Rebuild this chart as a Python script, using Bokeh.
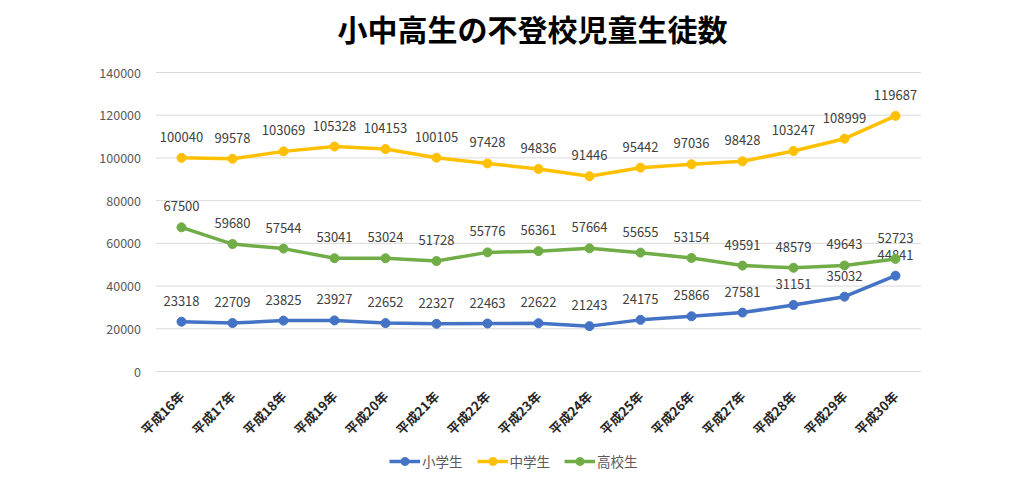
import math
from bokeh.plotting import figure
from bokeh.models import ColumnDataSource, Range1d, Legend, LegendItem, Label
from bokeh.embed import file_html
from bokeh.resources import INLINE
from bokeh.core.properties import value

years = ["平成16年", "平成17年", "平成18年", "平成19年", "平成20年", "平成21年", "平成22年", "平成23年",
         "平成24年", "平成25年", "平成26年", "平成27年", "平成28年", "平成29年", "平成30年"]
elementary = [23318, 22709, 23825, 23927, 22652, 22327, 22463, 22622, 21243, 24175, 25866, 27581, 31151, 35032, 44841]
junior = [100040, 99578, 103069, 105328, 104153, 100105, 97428, 94836, 91446, 95442, 97036, 98428, 103247, 108999, 119687]
high = [67500, 59680, 57544, 53041, 53024, 51728, 55776, 56361, 57664, 55655, 53154, 49591, 48579, 49643, 52723]
series_names = ["小学生", "中学生", "高校生"]
colors = ["#4472C4", "#FFC000", "#70AD47"]
y_ticks = [0, 20000, 40000, 60000, 80000, 100000, 120000, 140000]
title_text = "小中高生の不登校児童生徒数"

FONT = "Noto Sans CJK JP"

# ---- layout (pixels) ----
W, H = 1008, 475
plot_left, plot_right = 155.5, 920.5   # plot area edges
top_px, zero_px = 72, 371              # 140000 line / zero line
n = len(years)
step = (plot_right - plot_left) / n    # px per category
x_start = -0.5 - plot_left / step
x_end = x_start + W / step
y_max = y_ticks[-1]
k = y_max / (zero_px - top_px)         # data units per px
y_start = -(H - zero_px) * k
y_end = y_max + top_px * k

xs = list(range(n))

p = figure(width=W, height=H, x_range=Range1d(x_start, x_end), y_range=Range1d(y_start, y_end),
           output_backend="svg", toolbar_location=None,
           min_border_left=0, min_border_right=0, min_border_top=0, min_border_bottom=0)
p.outline_line_color = None
p.xaxis.visible = False
p.yaxis.visible = False
p.xgrid.grid_line_color = None
p.ygrid.grid_line_color = None

# gridlines
p.segment(x0=[-0.5] * len(y_ticks), x1=[n - 0.5] * len(y_ticks), y0=y_ticks, y1=y_ticks,
          line_color="#d9d9d9", line_width=1)

# y tick labels
p.text(x=[-0.5] * len(y_ticks), y=y_ticks, text=[str(t) for t in y_ticks], x_offset=-15,
       text_align="right", text_baseline="middle", text_font=value(FONT),
       text_font_size="12.5px", text_color="#595959")

# category labels, rotated
p.text(x=xs, y=[0] * n, text=years, angle=math.pi / 4, text_align="right",
       text_baseline="middle", y_offset=22, text_font=value(FONT),
       text_font_size="13px", text_font_style="bold", text_color="#262626")

items = []
for name, vals, c in zip(series_names, [elementary, junior, high], colors):
    src = ColumnDataSource(dict(x=xs, y=vals, t=[str(v) for v in vals]))
    l = p.line("x", "y", source=src, line_color=c, line_width=3.5)
    m = p.scatter("x", "y", source=src, size=9, fill_color=c, line_color=c)
    p.text("x", "y", text="t", source=src, text_align="center", text_baseline="middle",
           y_offset=-21, text_font=value(FONT), text_font_size="13px", text_color="#404040")
    items.append(LegendItem(label=name, renderers=[l, m]))

# title
p.add_layout(Label(x=x_start + 532 / step, y=y_max + (top_px - 27) * k, text=title_text,
                   text_align="center", text_baseline="middle", text_font=FONT,
                   text_font_size="30px", text_font_style="bold", text_color="#000000"))

legend = Legend(items=items, orientation="horizontal", location=(389, 4),
                label_text_font=FONT, label_text_font_size="13.5px", label_text_color="#595959",
                glyph_width=31, spacing=14, border_line_color=None, background_fill_alpha=0,
                margin=0, padding=0, label_standoff=2)
p.add_layout(legend, "center")

open("out.html", "w").write(file_html(p, INLINE))
